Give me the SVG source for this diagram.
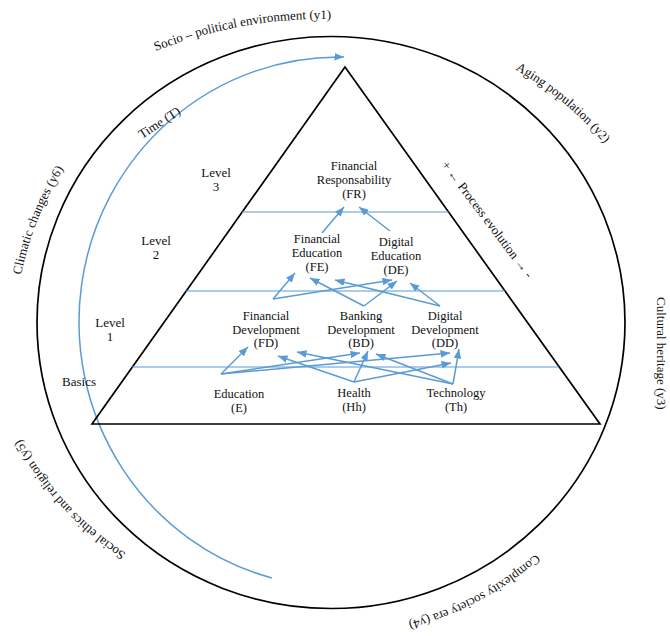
<svg xmlns="http://www.w3.org/2000/svg" width="670" height="636" viewBox="0 0 670 636">
<style>
text{font-family:"Liberation Serif","Times New Roman",serif;fill:#111;}
.n{font-size:12.5px;text-anchor:middle;}
.o{font-size:13px;}
.lv{font-size:13px;text-anchor:middle;}
.blk{fill:none;stroke:#000;stroke-width:1.7;}
.lvl{stroke:#5B9BD5;stroke-width:1.1;fill:none;}
.c{stroke:#5B9BD5;stroke-width:1.5;fill:none;marker-end:url(#ah);}
</style>
<defs>
<marker id="ah" viewBox="0 0 10 8" refX="10" refY="4" markerWidth="9.5" markerHeight="7.6" markerUnits="userSpaceOnUse" orient="auto"><path d="M0,0 L10,4 L0,8 z" fill="#5B9BD5"/></marker>
<path id="p1" d="M156,51 A450,450 0 0 1 331,19"/>
<path id="p2" d="M516,70 A330,330 0 0 1 604,143"/>
<path id="p4" d="M574.5,512.8 A309,309 0 0 1 352.6,630.8"/>
<path id="p5" d="M127,554 A320,320 0 0 1 20,438"/>
<path id="p6" d="M21,275.5 A320,320 0 0 1 64,168.5"/>
</defs>
<rect width="670" height="636" fill="#fff"/>
<g id="environment">
<ellipse class="blk" cx="331" cy="322.5" rx="294" ry="286"/>
<text class="o"><textPath href="#p1" startOffset="50%" text-anchor="middle">Socio – political environment (y1)</textPath></text>
<text class="o"><textPath href="#p2" startOffset="50%" text-anchor="middle">Aging population (y2)</textPath></text>
<text class="o" transform="translate(657,297) rotate(90)">Cultural heritage (y3)</text>
<text class="o"><textPath href="#p4" startOffset="50%" text-anchor="middle">Complexity society era (y4)</textPath></text>
<text class="o"><textPath href="#p5" startOffset="50%" text-anchor="middle">Social ethics and religion (y5)</textPath></text>
<text class="o"><textPath href="#p6" startOffset="50%" text-anchor="middle">Climatic changes (y6)</textPath></text>
</g>
<g id="time">
<path d="M272,578 A260,265 0 0 1 344,57" stroke="#5B9BD5" stroke-width="1.5" fill="none" marker-end="url(#ah)"/>
<text class="o" transform="translate(142,139) rotate(-33)">Time (T)</text>
</g>
<g id="pyramid">
<path class="blk" d="M345,67 L600,424 L92,424 Z"/>
<line class="lvl" x1="242" y1="212" x2="448.5" y2="212"/>
<line class="lvl" x1="186" y1="291" x2="505" y2="291"/>
<line class="lvl" x1="132" y1="367" x2="559" y2="367"/>
</g>
<g id="levels">
<text class="lv" x="216" y="177">Level<tspan x="216" y="191">3</tspan></text>
<text class="lv" x="156" y="245">Level<tspan x="156" y="259">2</tspan></text>
<text class="lv" x="110" y="327">Level<tspan x="110" y="341">1</tspan></text>
<text class="lv" x="79" y="386">Basics</text>
</g>
<g id="process">
<text class="o" transform="translate(441,165) rotate(53)">+ ← Process evolution → -</text>
</g>
<g id="connectors">
<path class="c" d="M221,374 L248,347"/>
<path class="c" d="M221,374 L360,353"/>
<path class="c" d="M221,374 L450,353"/>
<path class="c" d="M354,382 L278,356"/>
<path class="c" d="M354,382 L368,351"/>
<path class="c" d="M354,382 L451,363"/>
<path class="c" d="M453,384 L297,352"/>
<path class="c" d="M453,384 L376,354"/>
<path class="c" d="M453,384 L459,349"/>
<path class="c" d="M273,299 L295,273"/>
<path class="c" d="M273,299 L392,280"/>
<path class="c" d="M364,306 L310,278"/>
<path class="c" d="M364,306 L397,281"/>
<path class="c" d="M440,306 L335,280"/>
<path class="c" d="M440,306 L410,283"/>
<path class="c" d="M322,233 L344,207"/>
<path class="c" d="M390,231 L359,207"/>
</g>
<g id="FR"><text class="n" x="354" y="170">Financial<tspan x="354" y="184">Responsability</tspan><tspan x="354" y="198">(FR)</tspan></text></g>
<g id="FE"><text class="n" x="317" y="243">Financial<tspan x="317" y="257">Education</tspan><tspan x="317" y="271">(FE)</tspan></text></g>
<g id="DE"><text class="n" x="396" y="246">Digital<tspan x="396" y="260">Education</tspan><tspan x="396" y="274">(DE)</tspan></text></g>
<g id="FD"><text class="n" x="266" y="320">Financial<tspan x="266" y="334">Development</tspan><tspan x="266" y="347">(FD)</tspan></text></g>
<g id="BD"><text class="n" x="361" y="320">Banking<tspan x="361" y="334">Development</tspan><tspan x="361" y="347">(BD)</tspan></text></g>
<g id="DD"><text class="n" x="445" y="320">Digital<tspan x="445" y="334">Development</tspan><tspan x="445" y="347">(DD)</tspan></text></g>
<g id="E"><text class="n" x="239" y="398">Education<tspan x="239" y="412">(E)</tspan></text></g>
<g id="Hh"><text class="n" x="354" y="397">Health<tspan x="354" y="411">(Hh)</tspan></text></g>
<g id="Th"><text class="n" x="456" y="397">Technology<tspan x="456" y="411">(Th)</tspan></text></g>
</svg>
